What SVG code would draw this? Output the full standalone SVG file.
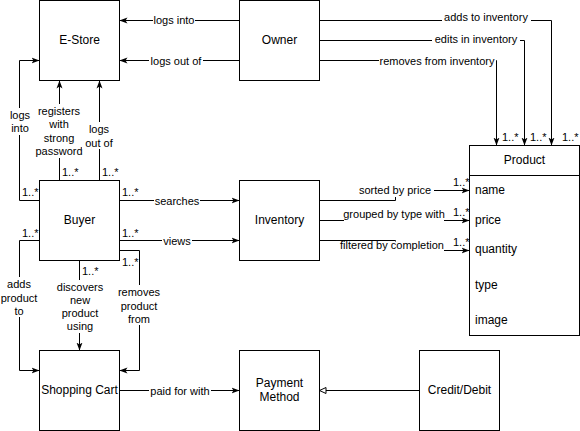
<svg xmlns="http://www.w3.org/2000/svg" width="580" height="431" viewBox="0 0 580 431">
  <style>
    .box { fill: #ffffff; stroke: #000000; stroke-width: 1; }
    .edge { fill: none; stroke: #000000; stroke-width: 1; }
    .node-text { font-family: "Liberation Sans", Arial, sans-serif; font-size: 12px; fill: #000000; text-anchor: middle; dominant-baseline: central; }
    .attr { font-family: "Liberation Sans", Arial, sans-serif; font-size: 12px; fill: #000000; text-anchor: start; dominant-baseline: central; }
    .lbl { font-family: "Liberation Sans", Arial, sans-serif; font-size: 11px; fill: #000000; text-anchor: middle; dominant-baseline: central; }
    .mult { font-family: "Liberation Sans", Arial, sans-serif; font-size: 11px; fill: #000000; text-anchor: start; dominant-baseline: central; }
    .lblbg { fill: #ffffff; stroke: none; }
  </style>
  <defs>
    <marker id="arrow" viewBox="0 0 8 8" refX="8" refY="4" markerWidth="8" markerHeight="8" orient="auto" markerUnits="userSpaceOnUse">
      <path d="M0,1 L8,4 L0,7 L2,4 z" fill="#000000"/>
    </marker>
    <marker id="hollow" viewBox="0 0 8 8" refX="7.5" refY="4" markerWidth="8" markerHeight="8" orient="auto" markerUnits="userSpaceOnUse">
      <path d="M1,1 L7.5,4 L1,7 z" fill="#ffffff" stroke="#000000" stroke-width="1"/>
    </marker>
  </defs>

  <rect x="0" y="0" width="580" height="431" fill="#ffffff"/>

  <!-- connectors -->
  <g id="connectors">
    <!-- Owner to E-Store -->
    <path class="edge" d="M239.5,20.5 H119.5" marker-end="url(#arrow)"/>
    <path class="edge" d="M239.5,60.5 H119.5" marker-end="url(#arrow)"/>
    <!-- Owner to Product -->
    <path class="edge" d="M319.5,20.5 H551.5 V145.5" marker-end="url(#arrow)"/>
    <path class="edge" d="M319.5,40.5 H524.5 V145.5" marker-end="url(#arrow)"/>
    <path class="edge" d="M319.5,60.5 H496.5 V145.5" marker-end="url(#arrow)"/>
    <!-- Buyer to E-Store -->
    <path class="edge" d="M39.5,200.5 H19.5 V60.5 H39.5" marker-end="url(#arrow)"/>
    <path class="edge" d="M59.5,180.5 V80.5" marker-end="url(#arrow)"/>
    <path class="edge" d="M99.5,180.5 V80.5" marker-end="url(#arrow)"/>
    <!-- Buyer to Inventory -->
    <path class="edge" d="M119.5,200.5 H239.5" marker-end="url(#arrow)"/>
    <path class="edge" d="M119.5,240.5 H239.5" marker-end="url(#arrow)"/>
    <!-- Buyer to Shopping Cart -->
    <path class="edge" d="M39.5,240.5 H19.5 V370.5 H39.5" marker-end="url(#arrow)"/>
    <path class="edge" d="M79.5,260.5 V350.5" marker-end="url(#arrow)"/>
    <path class="edge" d="M119.5,250.5 H139.5 V370.5 H119.5" marker-end="url(#arrow)"/>
    <!-- Shopping Cart to Payment Method -->
    <path class="edge" d="M119.5,390.5 H239.5" marker-end="url(#arrow)"/>
    <!-- Credit/Debit generalises Payment Method -->
    <path class="edge" d="M419.5,390.5 H319.5" marker-end="url(#hollow)"/>
    <!-- Inventory to Product -->
    <path class="edge" d="M319.5,200.5 H395.5 V190.5 H469.5" marker-end="url(#arrow)"/>
    <path class="edge" d="M319.5,220.5 H469.5" marker-end="url(#arrow)"/>
    <path class="edge" d="M319.5,240.5 H395.5 V250.5 H469.5" marker-end="url(#arrow)"/>

    <!-- edge labels -->
    <rect class="lblbg" x="153" y="14" width="42" height="13"/>
    <text class="lbl" x="174" y="20">logs into</text>
    <rect class="lblbg" x="149" y="54" width="54" height="13"/>
    <text class="lbl" x="176" y="61">logs out of</text>
    <rect class="lblbg" x="442" y="11" width="89" height="13"/>
    <text class="lbl" x="486" y="17">adds to inventory</text>
    <rect class="lblbg" x="432" y="33" width="88" height="13"/>
    <text class="lbl" x="476" y="39">edits in inventory</text>
    <rect class="lblbg" x="379" y="54" width="117" height="13"/>
    <text class="lbl" x="437" y="61">removes from inventory</text>

    <rect class="lblbg" x="6" y="108" width="28" height="27"/>
    <text class="lbl" x="20" y="115">logs</text>
    <text class="lbl" x="20" y="128">into</text>
    <rect class="lblbg" x="35" y="104" width="48" height="54"/>
    <text class="lbl" x="59" y="111">registers</text>
    <text class="lbl" x="59" y="124">with</text>
    <text class="lbl" x="59" y="138">strong</text>
    <text class="lbl" x="59" y="151">password</text>
    <rect class="lblbg" x="82" y="122" width="34" height="27"/>
    <text class="lbl" x="99" y="129">logs</text>
    <text class="lbl" x="99" y="143">out of</text>

    <rect class="lblbg" x="154" y="194" width="46" height="13"/>
    <text class="lbl" x="177" y="201">searches</text>
    <rect class="lblbg" x="162" y="234" width="30" height="13"/>
    <text class="lbl" x="177" y="241">views</text>

    <rect class="lblbg" x="0" y="277" width="39" height="40"/>
    <text class="lbl" x="19" y="284">adds</text>
    <text class="lbl" x="19" y="298">product</text>
    <text class="lbl" x="19" y="311">to</text>
    <rect class="lblbg" x="56" y="280" width="48" height="53"/>
    <text class="lbl" x="80" y="287">discovers</text>
    <text class="lbl" x="80" y="300">new</text>
    <text class="lbl" x="80" y="313">product</text>
    <text class="lbl" x="80" y="326">using</text>
    <rect class="lblbg" x="118" y="285" width="43" height="40"/>
    <text class="lbl" x="139" y="292">removes</text>
    <text class="lbl" x="139" y="306">product</text>
    <text class="lbl" x="139" y="319">from</text>

    <rect class="lblbg" x="149" y="384" width="62" height="13"/>
    <text class="lbl" x="180" y="391">paid for with</text>

    <rect class="lblbg" x="357" y="184" width="77" height="13"/>
    <text class="lbl" x="395" y="190">sorted by price</text>
    <rect class="lblbg" x="344" y="207" width="100" height="14"/>
    <text class="lbl" x="394" y="214">grouped by type with</text>
    <rect class="lblbg" x="339" y="241.5" width="105" height="9.5"/>
    <text class="lbl" x="392" y="245">filtered by completion</text>

    <!-- multiplicities -->
    <text class="mult" x="62" y="172">1..*</text>
    <text class="mult" x="102" y="172">1..*</text>
    <text class="mult" x="22" y="192">1..*</text>
    <text class="mult" x="122" y="192">1..*</text>
    <text class="mult" x="22" y="233">1..*</text>
    <text class="mult" x="122" y="233">1..*</text>
    <text class="mult" x="122" y="262">1..*</text>
    <text class="mult" x="82" y="271">1..*</text>
    <text class="mult" x="502" y="137">1..*</text>
    <text class="mult" x="530" y="137">1..*</text>
    <text class="mult" x="562" y="137">1..*</text>
    <text class="mult" x="453" y="182">1..*</text>
    <text class="mult" x="453" y="212">1..*</text>
    <text class="mult" x="453" y="242">1..*</text>
  </g>

  <!-- nodes -->
  <g id="estore">
    <rect class="box" x="39.5" y="0.5" width="80" height="80"/>
    <text class="node-text" x="79.5" y="40">E-Store</text>
  </g>
  <g id="owner">
    <rect class="box" x="239.5" y="0.5" width="80" height="80"/>
    <text class="node-text" x="279.5" y="40">Owner</text>
  </g>
  <g id="buyer">
    <rect class="box" x="39.5" y="180.5" width="80" height="80"/>
    <text class="node-text" x="79.5" y="220">Buyer</text>
  </g>
  <g id="inventory">
    <rect class="box" x="239.5" y="180.5" width="80" height="80"/>
    <text class="node-text" x="279.5" y="220">Inventory</text>
  </g>
  <g id="shopping-cart">
    <rect class="box" x="39.5" y="350.5" width="80" height="80"/>
    <text class="node-text" x="79.5" y="390">Shopping Cart</text>
  </g>
  <g id="payment-method">
    <rect class="box" x="239.5" y="350.5" width="80" height="80"/>
    <text class="node-text" x="279.5" y="383">Payment</text>
    <text class="node-text" x="279.5" y="397">Method</text>
  </g>
  <g id="credit-debit">
    <rect class="box" x="419.5" y="350.5" width="80" height="80"/>
    <text class="node-text" x="459.5" y="390">Credit/Debit</text>
  </g>
  <g id="product">
    <rect class="box" x="469.5" y="145.5" width="110" height="190"/>
    <line class="edge" x1="469.5" y1="175.5" x2="579.5" y2="175.5"/>
    <text class="node-text" x="524.5" y="160">Product</text>
    <text class="attr" x="475" y="190">name</text>
    <text class="attr" x="475" y="220">price</text>
    <text class="attr" x="475" y="249">quantity</text>
    <text class="attr" x="475" y="285">type</text>
    <text class="attr" x="475" y="320">image</text>
  </g>
</svg>
